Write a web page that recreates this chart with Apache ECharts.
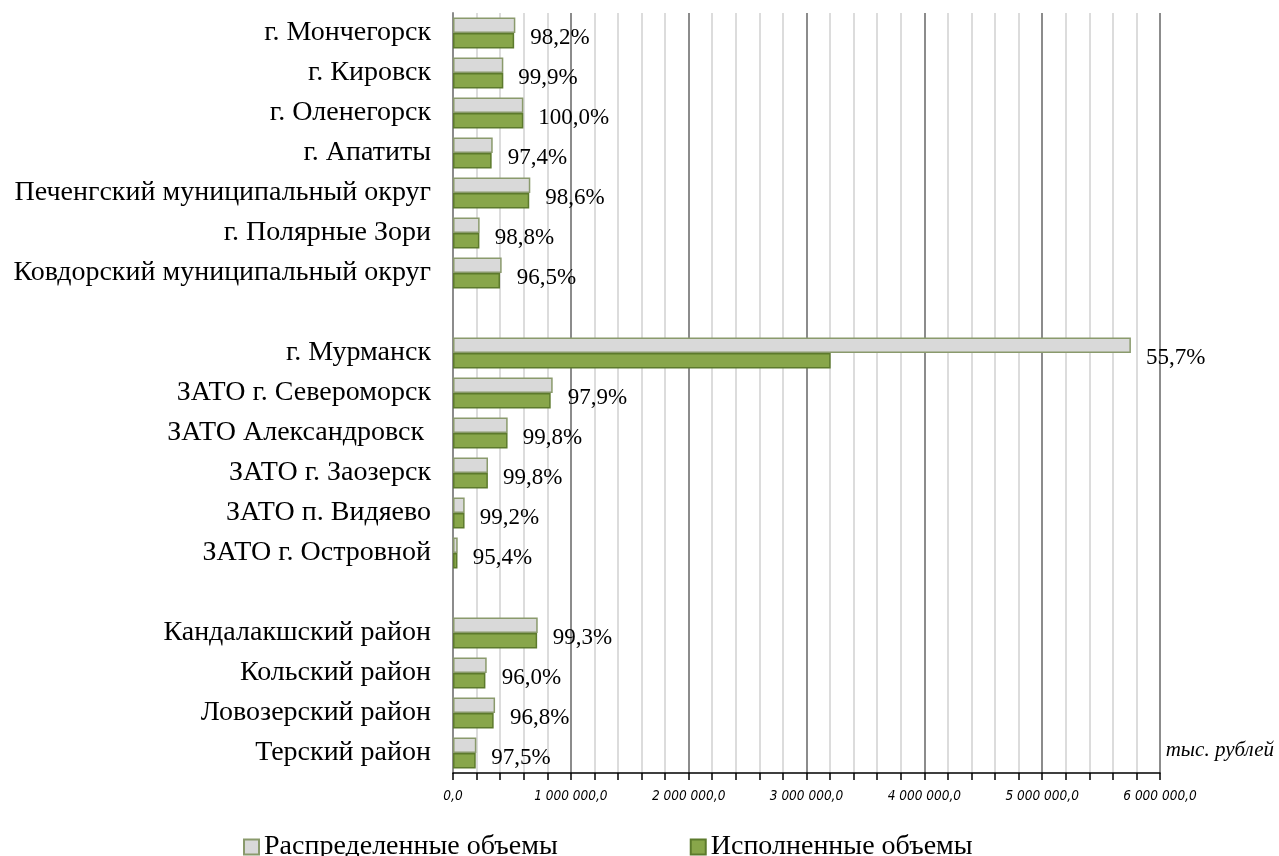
<!DOCTYPE html>
<html><head><meta charset="utf-8">
<script src="https://cdn.jsdelivr.net/npm/echarts@6/dist/echarts.min.js"></script>
<style>html,body{margin:0;padding:0;background:#fff}#c{width:1279px;height:856px}</style>
</head><body><div id="c"></div>
<script>
var categories = ['г. Мончегорск','г. Кировск','г. Оленегорск','г. Апатиты','Печенгский муниципальный округ','г. Полярные Зори','Ковдорский муниципальный округ','',
  'г. Мурманск','ЗАТО г. Североморск','ЗАТО Александровск ','ЗАТО г. Заозерск','ЗАТО п. Видяево','ЗАТО г. Островной','',
  'Кандалакшский район','Кольский район','Ловозерский район','Терский район'];
var distributed = [529000,427000,597000,337000,656000,226000,413000,null,5753000,846000,464000,297000,99000,40000,null,719000,286000,357000,198000];
var executed    = [519000,427000,597000,328000,647000,224000,399000,null,3205000,829000,463000,296000,98000,38000,null,714000,275000,345000,193000];
var percents    = ['98,2%','99,9%','100,0%','97,4%','98,6%','98,8%','96,5%','','55,7%','97,9%','99,8%','99,8%','99,2%','95,4%','','99,3%','96,0%','96,8%','97,5%'];
var tickLabels  = ['0,0','1 000 000,0','2 000 000,0','3 000 000,0','4 000 000,0','5 000 000,0','6 000 000,0'];
var seriesNames = ['Распределенные объемы','Исполненные объемы'];
var unitLabel = 'тыс. рублей';

var serif = "'Liberation Serif','Times New Roman',serif";
var chart = echarts.init(document.getElementById('c'));
chart.setOption({
  animation:false,
  backgroundColor:'#fff',
  grid:{left:453,right:119,top:13,bottom:83,containLabel:false},
  title:{text:unitLabel,right:0,top:735,textStyle:{fontFamily:serif,fontStyle:'italic',fontWeight:'normal',fontSize:21,color:'#000'}},
  legend:{top:828,left:238,itemGap:132,itemWidth:15,itemHeight:15,icon:'rect',
    textStyle:{fontFamily:serif,fontSize:28,color:'#000'},data:seriesNames},
  xAxis:{type:'value',min:0,max:6000000,interval:1000000,
    axisLine:{show:true,lineStyle:{color:'#000',width:1.5}},
    axisTick:{show:true,length:7,lineStyle:{color:'#000',width:1.5}},
    minorTick:{show:true,splitNumber:5,length:7,lineStyle:{color:'#000',width:1.5}},
    splitLine:{show:true,lineStyle:{color:'#8c8c8c',width:2}},
    minorSplitLine:{show:true,lineStyle:{color:'#dcdcdc',width:2}},
    axisLabel:{margin:16,fontFamily:"'Liberation Sans Narrow','DejaVu Sans Condensed','Liberation Sans',sans-serif",fontStyle:'italic',fontSize:13.5,color:'#000',
      formatter:function(v){return tickLabels[Math.round(v/1000000)];}}
  },
  yAxis:{type:'category',inverse:true,data:categories,
    axisLine:{show:true,lineStyle:{color:'#8c8c8c',width:2}},
    axisTick:{show:false},
    axisLabel:{margin:22,fontFamily:serif,fontSize:28,color:'#000',padding:[3,0,0,0]}},
  series:[
    {name:seriesNames[0],type:'bar',data:distributed,barGap:'0%',barCategoryGap:'22%',
      itemStyle:{color:'#d9d9d9',borderColor:'#8a9a6c',borderWidth:1.5},
      label:{show:true,position:'right',distance:15,offset:[0,13],fontFamily:serif,fontSize:23,color:'#000',
        formatter:function(p){return percents[p.dataIndex];}}},
    {name:seriesNames[1],type:'bar',data:executed,
      itemStyle:{color:'#88a64a',borderColor:'#5c7a2c',borderWidth:1.5}}
  ]
});
</script></body></html>
